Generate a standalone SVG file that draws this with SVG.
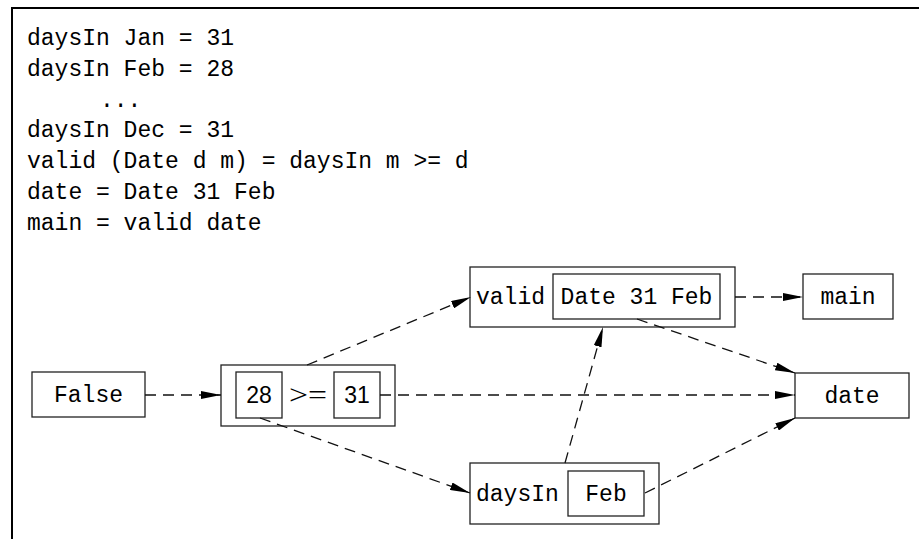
<svg xmlns="http://www.w3.org/2000/svg" width="919" height="539" viewBox="0 0 919 539">
<style>
.frame{stroke:#000;stroke-width:2;fill:none}
.box{fill:none;stroke:#222;stroke-width:1.3}
.code{font-family:"Liberation Mono","DejaVu Sans Mono",monospace;font-size:23px;fill:#000}
.mono{font-family:"Liberation Mono","DejaVu Sans Mono",monospace;font-size:23px;fill:#000}
.mid{text-anchor:middle}
.sans{font-family:"Liberation Sans",Arial,sans-serif;font-size:23px;fill:#000;text-anchor:middle}
.serif{font-family:"Liberation Serif","DejaVu Serif",serif;font-size:28px;fill:#000}
.edge{stroke:#111;stroke-width:1.3;fill:none;stroke-dasharray:11 7;marker-end:url(#arr)}
</style>
<defs>
<marker id="arr" markerUnits="userSpaceOnUse" markerWidth="20" markerHeight="8" refX="20" refY="4" orient="auto" viewBox="0 0 20 8">
<path d="M0,0 L20,4 L0,8 Z" fill="#000"/>
</marker>
</defs>
<rect width="919" height="539" fill="#fff"/>
<path class="frame" d="M12,539 V8 H919"/>
<g id="code">
<text class="code" x="27" y="45">daysIn Jan = 31</text>
<text class="code" x="27" y="76">daysIn Feb = 28</text>
<text class="code" x="100" y="107">...</text>
<text class="code" x="27" y="137">daysIn Dec = 31</text>
<text class="code" x="27" y="168">valid (Date d m) = daysIn m &gt;= d</text>
<text class="code" x="27" y="199">date = Date 31 Feb</text>
<text class="code" x="27" y="230">main = valid date</text>
</g>
<g id="node-false">
<rect class="box" x="32" y="372" width="113" height="45"/>
<text class="mono mid" x="88.5" y="402">False</text>
</g>
<g id="node-ge">
<rect class="box" x="221" y="365" width="174" height="61"/>
<rect class="box" x="236" y="372" width="46" height="46"/>
<text class="sans" x="259" y="403">28</text>
<text class="serif" x="289" y="404" textLength="38" lengthAdjust="spacingAndGlyphs">&gt;=</text>
<rect class="box" x="334" y="372" width="46" height="46"/>
<text class="sans" x="357" y="403">31</text>
</g>
<g id="node-valid">
<rect class="box" x="470" y="267" width="265" height="60"/>
<text class="mono" x="476" y="303.5">valid</text>
<rect class="box" x="553" y="274" width="167" height="45"/>
<text class="mono mid" x="636.5" y="303.5">Date 31 Feb</text>
</g>
<g id="node-main">
<rect class="box" x="803" y="274" width="90" height="45"/>
<text class="mono mid" x="848" y="303.5">main</text>
</g>
<g id="node-date">
<rect class="box" x="795" y="373" width="114" height="45"/>
<text class="mono mid" x="852" y="402.5">date</text>
</g>
<g id="node-daysin">
<rect class="box" x="470" y="463" width="189" height="61"/>
<text class="mono" x="476" y="500.5">daysIn</text>
<rect class="box" x="568" y="471" width="76" height="45"/>
<text class="mono mid" x="606" y="500.5">Feb</text>
</g>
<g id="connectors">
<line class="edge" x1="145" y1="395" x2="221" y2="395"/>
<line class="edge" x1="307" y1="365" x2="471" y2="297"/>
<line class="edge" x1="380" y1="395" x2="795" y2="395"/>
<line class="edge" x1="260" y1="418" x2="470" y2="493"/>
<line class="edge" x1="735" y1="297" x2="803" y2="297"/>
<line class="edge" x1="637" y1="319" x2="795" y2="373"/>
<line class="edge" x1="565" y1="463" x2="603" y2="327"/>
<line class="edge" x1="645" y1="493" x2="795" y2="418"/>
</g>
</svg>
